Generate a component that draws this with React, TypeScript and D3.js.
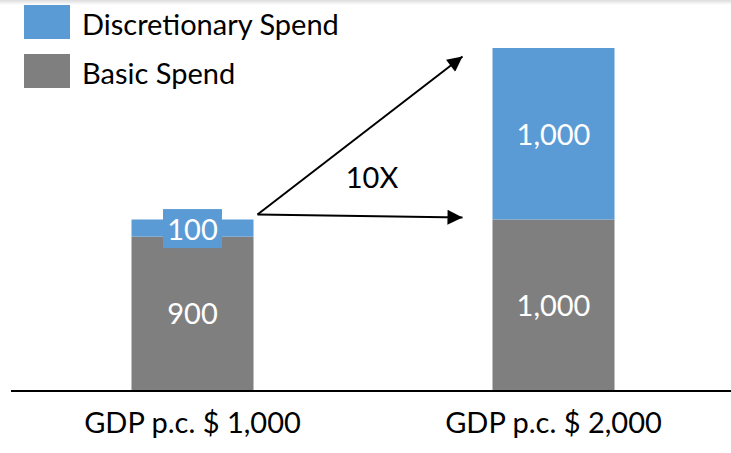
import { useEffect, useRef } from 'react';
import * as d3 from 'd3';

const categories = ['GDP p.c. $ 1,000', 'GDP p.c. $ 2,000'];
const basicSpend = [900, 1000];
const discretionarySpend = [100, 1000];
const barLabels = {
  basic: ['900', '1,000'],
  discretionary: ['100', '1,000'],
};
const seriesNames = ['Discretionary Spend', 'Basic Spend'];
const multipleLabel = '10X';

const BLUE = '#5b9bd5';
const GRAY = '#7f7f7f';
const FONT = 'Lato, "Open Sans", sans-serif';

export default function App() {
  const svgRef = useRef<SVGSVGElement>(null);

  useEffect(() => {
    if (!svgRef.current) return;
    const width = 731;
    const height = 453;
    const svg = d3.select(svgRef.current);
    svg.selectAll('*').remove();

    const defs = svg.append('defs');
    defs.append('marker')
      .attr('id', 'arrowHead')
      .attr('viewBox', '0 0 10 10')
      .attr('refX', 10)
      .attr('refY', 5)
      .attr('markerWidth', 8.5)
      .attr('markerHeight', 7.5)
      .attr('markerUnits', 'strokeWidth')
      .attr('orient', 'auto')
      .append('path')
      .attr('d', 'M0,0 L10,5 L0,10 Z')
      .attr('fill', '#000');

    const shadow = defs.append('linearGradient')
      .attr('id', 'topShadow')
      .attr('x1', 0).attr('y1', 0).attr('x2', 0).attr('y2', 1);
    shadow.append('stop').attr('offset', '0%').attr('stop-color', '#dcdcdc');
    shadow.append('stop').attr('offset', '100%').attr('stop-color', '#ffffff');

    svg.append('rect').attr('width', width).attr('height', height).attr('fill', '#fff');
    svg.append('rect').attr('width', width).attr('height', 5).attr('fill', 'url(#topShadow)');

    const x = d3.scalePoint<string>().domain(categories).range([12, 734]).padding(0.5);
    const barWidth = 122;
    const y = d3.scaleLinear().domain([0, 2000]).range([391, 48]);

    const data = categories.map((c, i) => ({
      cat: c,
      basic: basicSpend[i],
      disc: discretionarySpend[i],
      basicLabel: barLabels.basic[i],
      discLabel: barLabels.discretionary[i],
    }));

    const fs = 29;
    const capOffset = fs * 0.36;

    // basic segment
    svg.selectAll('.basic')
      .data(data)
      .enter().append('rect')
      .attr('x', d => x(d.cat)! - barWidth / 2)
      .attr('y', d => y(d.basic))
      .attr('width', barWidth)
      .attr('height', d => y(0) - y(d.basic))
      .attr('fill', GRAY);

    // discretionary segment
    svg.selectAll('.disc')
      .data(data)
      .enter().append('rect')
      .attr('x', d => x(d.cat)! - barWidth / 2)
      .attr('y', d => y(d.basic + d.disc))
      .attr('width', barWidth)
      .attr('height', d => y(d.basic) - y(d.basic + d.disc))
      .attr('fill', BLUE);

    // label box for thin segment
    data.filter(d => y(d.basic) - y(d.basic + d.disc) < 40).forEach(d => {
      const mid = (y(d.basic) + y(d.basic + d.disc)) / 2;
      svg.append('rect')
        .attr('x', x(d.cat)! - 29.5)
        .attr('y', mid - 19)
        .attr('width', 59)
        .attr('height', 39)
        .attr('fill', BLUE);
    });

    svg.selectAll('.basicLabel')
      .data(data)
      .enter().append('text')
      .attr('x', d => x(d.cat)!)
      .attr('y', d => (y(0) + y(d.basic)) / 2 + capOffset)
      .attr('text-anchor', 'middle')
      .attr('fill', '#fff')
      .style('font-family', FONT)
      .style('font-size', fs + 'px')
      .text(d => d.basicLabel);

    svg.selectAll('.discLabel')
      .data(data)
      .enter().append('text')
      .attr('x', d => x(d.cat)!)
      .attr('y', d => (y(d.basic) + y(d.basic + d.disc)) / 2 + capOffset + 1)
      .attr('text-anchor', 'middle')
      .attr('fill', '#fff')
      .style('font-family', FONT)
      .style('font-size', fs + 'px')
      .text(d => d.discLabel);

    // baseline
    svg.append('line')
      .attr('x1', 11).attr('x2', width)
      .attr('y1', y(0)).attr('y2', y(0))
      .attr('stroke', '#000')
      .attr('stroke-width', 2);

    // category labels
    svg.selectAll('.cat')
      .data(categories)
      .enter().append('text')
      .attr('x', d => x(d)!)
      .attr('y', 433)
      .attr('text-anchor', 'middle')
      .attr('fill', '#000')
      .style('font-family', FONT)
      .style('font-size', fs + 'px')
      .text(d => d);

    // arrows
    const startX = x(categories[0])! + barWidth / 2 + 4;
    const startY = y(1000) - 5;
    const endX = x(categories[1])! - barWidth / 2 - 30;
    svg.append('line')
      .attr('x1', startX).attr('y1', startY)
      .attr('x2', endX).attr('y2', y(1950))
      .attr('stroke', '#000').attr('stroke-width', 2)
      .attr('marker-end', 'url(#arrowHead)');
    svg.append('line')
      .attr('x1', startX).attr('y1', startY)
      .attr('x2', endX).attr('y2', y(1000) - 2)
      .attr('stroke', '#000').attr('stroke-width', 2)
      .attr('marker-end', 'url(#arrowHead)');

    svg.append('text')
      .attr('x', (startX + endX) / 2 + 12)
      .attr('y', 188)
      .attr('text-anchor', 'middle')
      .attr('fill', '#000')
      .style('font-family', FONT)
      .style('font-size', fs + 'px')
      .text(multipleLabel);

    // legend
    const legend = svg.append('g');
    const colors = [BLUE, GRAY];
    seriesNames.forEach((name, i) => {
      legend.append('rect')
        .attr('x', 24).attr('y', 5 + i * 49)
        .attr('width', 46).attr('height', 34)
        .attr('fill', colors[i]);
      legend.append('text')
        .attr('x', 82).attr('y', 35 + i * 49)
        .attr('fill', '#000')
        .style('font-family', FONT)
        .style('font-size', fs + 'px')
        .text(name);
    });
  }, []);

  return (
    <div style={{ position: 'fixed', left: 0, top: 0 }}>
      <svg ref={svgRef} width={731} height={453} style={{ display: 'block' }} />
    </div>
  );
}
